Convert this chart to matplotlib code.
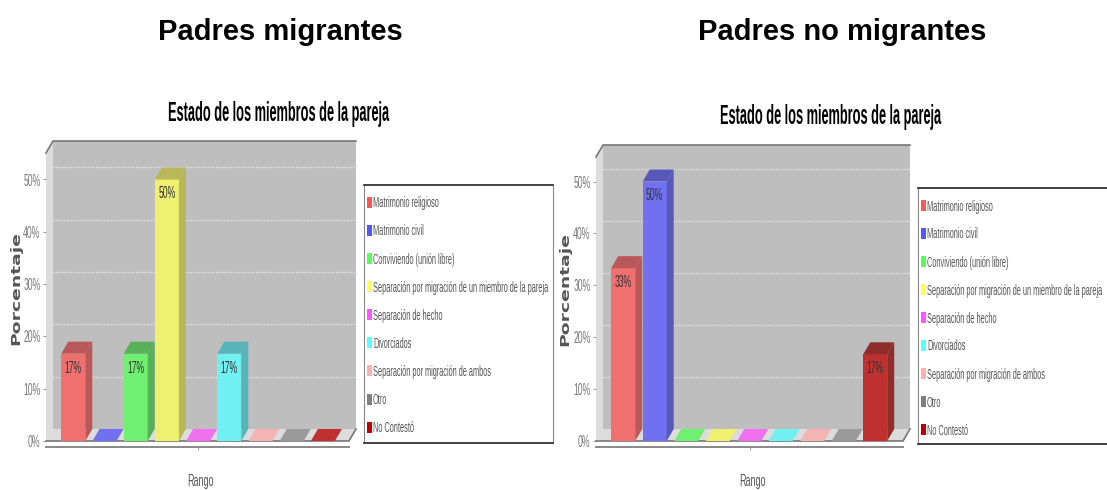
import matplotlib

matplotlib.use("Agg")

import matplotlib.pyplot as plt
from matplotlib import font_manager
from matplotlib.font_manager import FontProperties
from matplotlib.patches import Polygon, Rectangle
from fontTools.ttLib import TTFont

W, H = 1107, 490

categorias = ["Matrimonio religioso", "Matrimonio civil", "Conviviendo (unión libre)",
              "Separación por migración de un miembro de la pareja", "Separación de hecho",
              "Divorciados", "Separación por migración de ambos", "Otro", "No Contestó"]
migrantes = [16.7, 0, 16.7, 50, 0, 16.7, 0, 0, 0]
no_migrantes = [33.3, 50, 0, 0, 0, 0, 0, 0, 16.7]
yticks = [0, 10, 20, 30, 40, 50]

legend_colors = ["#ff5555", "#5555ff", "#55ff55", "#ffff55", "#ff55ff", "#55ffff", "#ffafaf", "#808080", "#c00000"]
front_colors = ["#f07070", "#7070f0", "#70f070", "#f0f070", "#f070f0", "#70f0f0", "#f5b4b4", "#9a9a9a", "#bf3030"]
dark_colors = ["#b85858", "#5858b8", "#58b058", "#b8b858", "#b858b8", "#58b4b8", "#c09090", "#787878", "#8f2c2c"]


def stretched_font(family, weight, sx, new_name):
    # the reference image is squeezed sideways, so make a font with the same squeeze
    font = TTFont(font_manager.findfont(FontProperties(family=family, weight=weight)))
    glyf = font["glyf"]
    for name in font.getGlyphOrder():
        g = glyf[name]
        if g.isComposite():
            for c in g.components:
                c.x = round(c.x * sx)
        elif g.numberOfContours > 0:
            g.coordinates.scale((sx, 1))
            g.coordinates.toInt()
        g.removeHinting()
        adv, lsb = font["hmtx"].metrics[name]
        font["hmtx"].metrics[name] = (round(adv * sx), round(lsb * sx))
    for tag in ["kern", "GPOS", "GSUB", "GDEF", "fpgm", "prep", "cvt ", "hdmx", "VDMX", "LTSH"]:
        if tag in font:
            del font[tag]
    for rec in font["name"].names:
        if rec.nameID in (1, 4, 16):
            rec.string = new_name
        elif rec.nameID == 6:
            rec.string = new_name.replace(" ", "")
    filename = new_name.replace(" ", "") + ".ttf"
    font.save(filename)
    font_manager.fontManager.addfont(filename)
    return new_name


NARROW = stretched_font("Liberation Sans", "normal", 0.52, "Angosta")
NARROW_BOLD = stretched_font("Liberation Sans", "bold", 0.46, "Angosta Negra")
WIDE_BOLD = stretched_font("DejaVu Sans", "bold", 1.6, "Ancha Negra")


def px_axes(fig, left, top, right, bottom):
    return fig.add_axes([left / W, 1 - bottom / H, (right - left) / W, (bottom - top) / H])


def draw_chart(fig, values, x0, x1, y_base, px10, first, step, ylabel_x, ylabel_y, depth_x=7, depth_y=12, top_px=153):
    ax = px_axes(fig, x0, top_px, x1, y_base)
    ax.set_facecolor("none")
    ax.set_xlim((x0 - first) / step, (x1 - first) / step)
    ax.set_ylim(0, (y_base - top_px) / px10 * 10)
    dx = depth_x / step
    dy = depth_y / px10 * 10
    xa, xb = ax.get_xlim()
    ytop = ax.get_ylim()[1]

    # paredes y piso
    ax.add_patch(Polygon([(xa + dx, dy), (xb + dx, dy), (xb + dx, ytop + dy), (xa + dx, ytop + dy)],
                         fc="#bebebe", ec="none", clip_on=False, zorder=1))
    ax.add_patch(Polygon([(xa, 0), (xa + dx, dy), (xa + dx, ytop + dy), (xa, ytop)],
                         fc="#dcdcdc", ec="none", clip_on=False, zorder=1))
    ax.add_patch(Polygon([(xa, 0), (xb, 0), (xb + dx, dy), (xa + dx, dy)],
                         fc="#dcdcdc", ec="none", clip_on=False, zorder=1))
    ax.plot([xa, xa + dx, xb + dx], [ytop, ytop + dy, ytop + dy], color="#777777", lw=1.2,
            clip_on=False, zorder=2)
    ax.plot([xa, xb, xb + dx], [0, 0, dy], color="#777777", lw=1.2, clip_on=False, zorder=2)

    for t in yticks[1:]:
        ax.plot([xa + dx, xb + dx], [t + dy, t + dy], color="#e8e8e8", lw=0.9, ls=(0, (1, 1)),
                clip_on=False, zorder=2)

    w = 24 / step
    for i, v in enumerate(values):
        if v == 0:
            ax.add_patch(Polygon([(i - w / 2, 0), (i + w / 2, 0), (i + w / 2 + dx, dy), (i - w / 2 + dx, dy)],
                                 fc=front_colors[i], ec="none", clip_on=False, zorder=3))
            continue
        ax.bar(i, v, width=w, color=front_colors[i], zorder=4)
        ax.add_patch(Polygon([(i + w / 2, 0), (i + w / 2 + dx, dy), (i + w / 2 + dx, v + dy), (i + w / 2, v)],
                             fc=dark_colors[i], ec="none", clip_on=False, zorder=4))
        ax.add_patch(Polygon([(i - w / 2, v), (i + w / 2, v), (i + w / 2 + dx, v + dy), (i - w / 2 + dx, v + dy)],
                             fc=dark_colors[i], ec="none", clip_on=False, zorder=4))
        ax.annotate(f"{round(v)}%", (i, v), xytext=(0, -5), textcoords="offset points", ha="center", va="top",
                    fontsize=12, family=NARROW, color="#333333", zorder=5)

    for s in ["top", "right", "left"]:
        ax.spines[s].set_visible(False)
    ax.spines["bottom"].set_position(("outward", 4.5))
    ax.spines["bottom"].set_color("#888888")
    ax.spines["bottom"].set_linewidth(1.4)
    ax.set_xticks([((x0 + x1) / 2 - first) / step])
    ax.set_xticklabels([""])
    ax.tick_params(axis="x", length=2, width=0.6, color="#888888")
    ax.set_yticks(yticks)
    ax.set_yticklabels([f"{t}%" for t in yticks], fontsize=12, family=NARROW, color="#777777")
    ax.tick_params(axis="y", length=2, width=0.6, color="#888888", pad=2)
    ax.set_xlabel("Rango", fontsize=12.5, family=NARROW, color="#555555", labelpad=14, x=0.51)
    ax.set_ylabel("Porcentaje", fontsize=8.5, family=WIDE_BOLD, color="#555555")
    ax.yaxis.set_label_coords((ylabel_x - x0) / (x1 - x0), (y_base - ylabel_y) / (y_base - top_px))
    return ax


def draw_legend(fig, left, top, right, bottom, first_y, step_y):
    ax = px_axes(fig, left, top, right, bottom)
    ax.set_xlim(left, right)
    ax.set_ylim(bottom, top)
    ax.set_xticks([])
    ax.set_yticks([])
    for s in ["left", "right"]:
        ax.spines[s].set_color("#888888")
        ax.spines[s].set_linewidth(0.8)
    for s in ["top", "bottom"]:
        ax.spines[s].set_color("#222222")
        ax.spines[s].set_linewidth(1.2)
    for i, (c, name) in enumerate(zip(legend_colors, categorias)):
        y = first_y + i * step_y
        ax.add_patch(Rectangle((left + 2.5, y - 5.5), 5.5, 11, fc=c, ec="none"))
        ax.text(left + 9, y + 1, name, fontsize=10.3, family=NARROW, color="#555555", va="center", ha="left")


fig = plt.figure(figsize=(W / 100, H / 100), dpi=100)

fig.text(280 / W, 1 - 32 / H, "Padres migrantes", fontsize=21, fontweight="bold", family="Liberation Sans",
         ha="center", va="center", color="black")
fig.text(842 / W, 1 - 32 / H, "Padres no migrantes", fontsize=21, fontweight="bold", family="Liberation Sans",
         ha="center", va="center", color="black")
fig.text(279 / W, 1 - 114 / H, "Estado de los miembros de la pareja", fontsize=20, family=NARROW_BOLD,
         ha="center", va="center", color="black")
fig.text(831 / W, 1 - 117 / H, "Estado de los miembros de la pareja", fontsize=20, family=NARROW_BOLD,
         ha="center", va="center", color="black")

draw_chart(fig, migrantes, 46, 349, 441, 52.3, 73.3, 31.2, 22, 288, top_px=153)
draw_chart(fig, no_migrantes, 596, 903, 441, 51.9, 623.2, 31.5, 571, 289, top_px=157)

draw_legend(fig, 364, 185, 553, 443, 202.3, 28.1)
draw_legend(fig, 918, 188, 1110, 444, 205.5, 28)

fig.savefig("out.png", dpi=100, facecolor="white")
plt.close()
